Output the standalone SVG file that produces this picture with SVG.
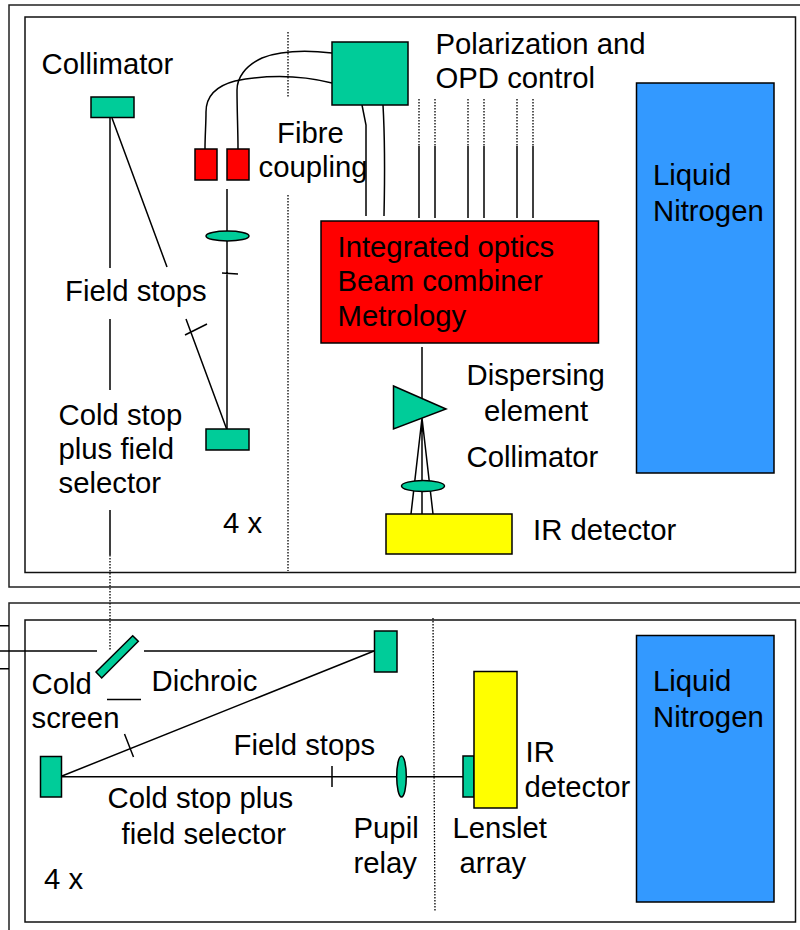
<svg xmlns="http://www.w3.org/2000/svg" width="800" height="930" viewBox="0 0 800 930">
<style>
text{font-family:"Liberation Sans",Arial,sans-serif;font-size:29.300px;fill:#000}
.f{fill:none;stroke:#111;stroke-width:1.500}
.o{fill:none;stroke:#222;stroke-width:1.500}
.s{stroke:#000;stroke-width:1.500}
.g{fill:#00cc99}.r{fill:#ff0000}.b{fill:#3399ff}.y{fill:#ffff00}
#connectors path{fill:none;stroke:#000;stroke-width:1.500}
#connectors .d{stroke-dasharray:1.500 1.500;stroke-width:1.300}
</style>
<rect width="800" height="930" fill="#fff"/>
<g id="frames">
<path class="o" d="M802 5H9V587H802"/>
<path class="o" d="M802 603H9V932"/>
<rect class="f" x="25" y="17" width="770.500" height="555.500"/>
<rect class="f" x="25" y="620" width="770.500" height="302"/>
</g>
<g id="connectors">
<path d="M110 117V268M110 319V390M110 510V555"/>
<path class="d" d="M110 555V650"/>
<path d="M112 118L167 267M186 319L227 430M185 335L207 324"/>
<path d="M227 189V429M222 273L238 274"/>
<path class="d" d="M288 32V98M288 195V571"/>
<path d="M332 53C305 50 280 51 262 58C245 66 237 78 237 90C237 110 238 130 238 149"/>
<path d="M332 83C300 75 265 75 235 81C212 87 206 100 206 112C206 125 205 135 205 149"/>
<path d="M362 105L366 125V216M383 105C385 140 385 170 384 216"/>
<path class="d" d="M419 99V146M435 99V146M468 99V146M484 99V146M517 99V146M533 99V146"/>
<path d="M419 146V218M435 146V218M468 146V218M484 146V218M517 146V218M533 146V218"/>
<path d="M422 347V400M422 418L411 514M422 418V514M422 418L433 514"/>
<path d="M0 625.700H9M0 668.700H9M0 651H97M144 651H375"/>
<path d="M62 776L374 651M124.500 734L133.500 757M62 776.700H463M332 766V787M107 699.500H141"/>
<path class="d" d="M433 618L435 912"/>
</g>
<g id="collimator-top"><rect class="s g" x="91" y="97" width="43" height="20.500"/><text x="41.500" y="74">Collimator</text></g>
<g id="polarization-opd"><rect class="s g" x="332" y="42" width="76" height="63"/><text x="435.500" y="54">Polarization and</text><text x="435.500" y="88">OPD control</text></g>
<g id="fibre-a"><rect class="s r" x="195" y="149" width="22" height="31"/></g>
<g id="fibre-b"><rect class="s r" x="227" y="149" width="22" height="31"/></g>
<g id="fibre-label"><text x="277" y="143">Fibre</text><text x="258.500" y="177">coupling</text></g>
<g id="lens-top"><ellipse class="s g" cx="227.500" cy="236" rx="21.500" ry="5"/></g>
<g id="field-stops-top"><text x="65" y="301">Field stops</text></g>
<g id="cold-stop-top"><rect class="s g" x="206" y="429" width="43" height="21"/><text x="58.500" y="425">Cold stop</text><text x="58.500" y="459">plus field</text><text x="58.500" y="493">selector</text></g>
<g id="count-top"><text x="223" y="533">4 x</text></g>
<g id="beam-combiner"><rect class="s r" x="321" y="221" width="277.500" height="122"/><text x="337.500" y="257">Integrated optics</text><text x="337.500" y="291">Beam combiner</text><text x="337.500" y="326">Metrology</text></g>
<g id="nitrogen-top"><rect class="s b" x="636.500" y="83" width="137.500" height="390"/><text x="653" y="185">Liquid</text><text x="653" y="221">Nitrogen</text></g>
<g id="prism"><path class="s g" d="M393.500 386L446 409L393.500 429Z"/><text x="466.500" y="385">Dispersing</text><text x="484" y="421">element</text></g>
<g id="collimator-mid"><ellipse class="s g" cx="423" cy="486" rx="21.500" ry="5.500"/><text x="466.500" y="467">Collimator</text></g>
<g id="detector-top"><rect class="s y" x="386" y="514" width="126" height="40"/><text x="533" y="540">IR detector</text></g>
<g id="dichroic"><path class="s g" d="M132.700 635.700L138.300 641.300L101.700 678L96 672Z"/><text x="151.500" y="691">Dichroic</text></g>
<g id="cold-screen"><text x="31.500" y="694">Cold</text><text x="31.500" y="728">screen</text></g>
<g id="mirror-right"><rect class="s g" x="374.500" y="631" width="22.500" height="41"/></g>
<g id="mirror-left"><rect class="s g" x="40.500" y="756.500" width="21" height="40.500"/></g>
<g id="field-stops-low"><text x="233.500" y="755">Field stops</text></g>
<g id="cold-stop-low"><text x="107.500" y="808">Cold stop plus</text><text x="121.500" y="844">field selector</text></g>
<g id="count-low"><text x="44" y="889">4 x</text></g>
<g id="pupil-relay"><ellipse class="s g" cx="401.500" cy="776.500" rx="4.800" ry="20.500"/><text x="353.500" y="838">Pupil</text><text x="353.500" y="873">relay</text></g>
<g id="lenslet"><rect class="s g" x="463" y="756" width="11" height="41"/><text x="452.500" y="838">Lenslet</text><text x="459.500" y="873">array</text></g>
<g id="detector-low"><rect class="s y" x="474" y="671.500" width="43" height="136.500"/><text x="525.500" y="762">IR</text><text x="524.500" y="797">detector</text></g>
<g id="nitrogen-low"><rect class="s b" x="636.500" y="635.500" width="137.500" height="266.500"/><text x="653" y="691">Liquid</text><text x="653" y="727">Nitrogen</text></g>
</svg>
